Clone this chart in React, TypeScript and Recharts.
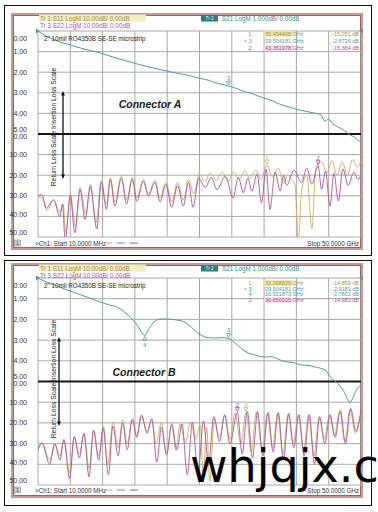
import React from 'react';
import { LineChart, Line, XAxis, YAxis, CartesianGrid, ReferenceLine, ReferenceDot } from 'recharts';

type Pt = [number, number];

const TAN = '#c4af68';
const MAG = '#ad5297';
const TEAL = '#4f9a9a';
const GRID = '#a8a8a8';
const FONT = '"Liberation Sans", Arial, sans-serif';

// frequency axis (GHz), one grid line per 5 GHz
const freqTicks = [0, 5, 10, 15, 20, 25, 30, 35, 40, 45, 50];
// S21 scale: 1 dB/div, 0 dB at top
const ilTicks = [0, -1, -2, -3, -4, -5, -6, -7, -8, -9, -10];

// ---- Connector A ----
const s21A: Pt[] = [
  [0, 0], [1, -0.2], [2, -0.35], [3.4, -0.53], [5, -0.68], [6.5, -0.82], [8, -0.94], [9.6, -1.06],
  [11, -1.2], [12.5, -1.35], [14, -1.48], [15.8, -1.64], [17.5, -1.77], [19, -1.88], [20.5, -1.98],
  [22, -2.08], [23.5, -2.17], [25, -2.3], [26.5, -2.4], [27.3, -2.5], [28, -2.55], [29.5, -2.67],
  [31, -2.82], [32, -2.95], [33, -3.02], [34, -3.15], [35.5, -3.3], [36.5, -3.42], [37.4, -3.55],
  [38.7, -3.67], [40, -3.8], [41.5, -3.9], [43, -4.0], [43.8, -4.06], [44.4, -4.38], [45, -4.28],
  [45.6, -4.5], [46.6, -4.68], [47.5, -4.85], [48.3, -5.05], [49, -5.15], [49.5, -5.3], [50, -5.35],
];
const s11A: Pt[] = [
  [0, -30.5], [0.6, -31], [1.4, -37], [2.4, -32], [3.4, -38], [3.9, -34], [4.3, -48], [5.0, -29],
  [5.8, -45], [6.5, -26], [7.4, -39], [8.1, -24.5], [9.0, -43], [9.8, -22.5], [10.6, -34],
  [11.2, -21], [11.9, -33], [12.9, -20.5], [13.7, -32], [14.6, -21], [15.3, -31], [16.3, -22],
  [17.1, -29], [18.1, -22.5], [18.9, -31], [19.8, -23.5], [20.7, -33], [21.6, -23.5], [22.5, -32],
  [23.3, -22], [24.1, -29], [25.0, -19.5], [25.8, -23], [26.7, -19], [27.6, -22.5], [28.5, -18.5],
  [29.4, -23], [30.3, -18.5], [31.1, -22], [32.0, -18], [32.8, -21.5], [33.7, -17.5], [34.5, -22],
  [35.45, -15.05], [36.3, -21], [37.2, -16.5], [38.0, -24], [38.6, -20], [39.2, -22], [39.8, -25],
  [40.3, -52], [40.8, -27.7], [41.6, -20], [42.4, -46], [43.0, -17], [43.9, -13.5], [44.7, -19],
  [45.5, -13], [46.3, -20], [47.1, -13.5], [47.9, -20], [48.7, -12.5], [49.4, -16], [50, -13],
];
const s22A: Pt[] = [
  [0, -30], [0.6, -29.5], [1.3, -36], [2.4, -32], [3.4, -40], [3.8, -34], [4.2, -52], [5.0, -30],
  [5.7, -48], [6.5, -27], [7.3, -41.5], [8.1, -25.5], [9.1, -46], [9.8, -23.5], [10.6, -36.6],
  [11.2, -22], [11.9, -35], [12.9, -21.5], [13.7, -34], [14.6, -22], [15.3, -32.7], [16.3, -23],
  [17.1, -30], [18.1, -23.5], [18.9, -33], [19.8, -24.5], [20.7, -35.6], [21.6, -25], [22.5, -35],
  [23.3, -23.5], [24.0, -35.6], [24.9, -21.5], [25.9, -26], [26.8, -21], [27.7, -27], [29.0, -20.5],
  [30.2, -31], [31.0, -21], [31.8, -28.5], [32.5, -21.5], [33.1, -27.7], [33.9, -19.5], [34.6, -33.3],
  [35.3, -17], [35.9, -36.6], [36.7, -18.5], [37.5, -27.7], [38.0, -20], [38.5, -25], [39.6, -17.5],
  [40.8, -23.6], [41.6, -16.5], [42.4, -24.4], [43.35, -15.4], [43.9, -26.8], [44.5, -18], [45.2, -35],
  [45.8, -19], [46.5, -32.5], [47.2, -17], [48.0, -25], [48.9, -18.5], [49.5, -22], [50, -20],
];

// ---- Connector B ----
const s21B: Pt[] = [
  [0, 0], [1, -0.15], [2.5, -0.33], [4.5, -0.58], [6.5, -0.8], [8, -0.97], [9.6, -1.16], [11, -1.3],
  [12.2, -1.4], [13.2, -1.6], [14.0, -1.8], [14.7, -2.03], [15.4, -2.3], [16.0, -2.6], [16.52, -2.78],
  [17.0, -2.55], [17.8, -2.17], [18.5, -2.02], [19.3, -1.98], [20.3, -1.99], [21.5, -2.03], [22.5, -2.1],
  [23.3, -2.27], [24.2, -2.5], [25.2, -2.75], [26.3, -2.88], [27.5, -2.9], [28.5, -2.88], [29.5, -2.918],
  [30.5, -3.14], [31.3, -3.35], [32.2, -3.57], [33.6, -3.72], [35.1, -3.82], [36.0, -3.8], [36.8, -3.86],
  [37.8, -4.0], [38.7, -4.06], [39.7, -4.1], [40.7, -4.2], [41.8, -4.22], [42.9, -4.3], [44.4, -4.44],
  [45.4, -4.83], [46.4, -5.1], [47.3, -5.45], [48.3, -6.0], [49.0, -5.6], [49.5, -5.3], [50, -5.2],
];
const s11B: Pt[] = [
  [0, -33], [0.6, -30], [1.8, -38], [2.6, -30.5], [3.4, -36], [4.0, -28.5], [4.9, -44], [5.6, -27],
  [6.4, -35], [7.1, -25.5], [7.9, -42], [8.6, -24], [9.4, -36], [10.1, -21.5], [10.8, -40], [11.6, -19.5],
  [12.4, -32], [13.1, -18.5], [13.8, -30], [14.6, -18], [15.3, -26], [16.0, -16], [16.9, -24],
  [17.6, -18.5], [18.3, -30], [19.1, -20], [19.9, -36], [20.7, -20], [21.3, -33], [22.0, -20.5],
  [22.8, -30], [23.6, -19.5], [24.4, -28], [25.1, -21], [25.6, -46], [26.1, -22], [26.6, -48],
  [27.3, -18], [28.1, -27], [28.9, -16.5], [29.7, -28], [30.5, -15.5], [31.4, -30], [32.21, -14.86],
  [33.0, -34], [33.8, -14.8], [34.7, -33], [35.5, -15.5], [36.3, -32], [37.1, -15.5], [37.9, -35],
  [38.7, -16], [39.5, -30], [40.3, -16.5], [41.1, -33], [41.9, -16.5], [42.7, -36], [43.5, -17.5],
  [44.3, -28], [45.1, -16.5], [45.9, -26], [46.7, -14.5], [47.5, -29], [48.3, -13.5], [49.1, -25], [50, -14.5],
];
const s22B: Pt[] = [
  [0, -33], [0.6, -29.5], [1.8, -40], [2.6, -30], [3.4, -38], [4.0, -28], [4.9, -47], [5.6, -26.5],
  [6.4, -37], [7.1, -25], [7.9, -46], [8.6, -23.5], [9.4, -38], [10.1, -22.5], [10.9, -45], [11.6, -21.5],
  [12.4, -36], [13.1, -20], [13.8, -33], [14.6, -18.5], [15.3, -27], [16.0, -16.5], [16.9, -25],
  [17.6, -18], [18.4, -39], [19.1, -22], [19.9, -35], [20.7, -21], [21.5, -33], [22.3, -20.5],
  [23.1, -45], [23.9, -19.8], [24.8, -44], [25.6, -19], [26.4, -40], [27.2, -17], [28.1, -29],
  [28.9, -16], [29.7, -30], [30.86, -14.98], [31.6, -35], [32.4, -14.5], [33.2, -37], [34.0, -14.5],
  [34.8, -36], [35.6, -15], [36.4, -34], [37.2, -15], [38.0, -38], [38.8, -15.5], [39.6, -32],
  [40.4, -16], [41.2, -36], [42.0, -16], [42.8, -40], [43.6, -17], [44.4, -30], [45.2, -16],
  [46.0, -27], [46.8, -14], [47.6, -30], [48.4, -13], [49.2, -24], [50, -14],
];

// marker readouts: id, trace, frequency (GHz), value (dB)
type Marker = { id: string; tr: 's11' | 's21' | 's22'; f: number; v: number; active?: boolean; below?: boolean };
const markersA: Marker[] = [
  { id: '1', tr: 's11', f: 35.454408, v: -15.051 },
  { id: '3', tr: 's21', f: 29.504181, v: -2.6726, active: true },
  { id: '2', tr: 's22', f: 43.351978, v: -15.384 },
];
const markersB: Marker[] = [
  { id: '1', tr: 's11', f: 32.208829, v: -14.859 },
  { id: '3', tr: 's21', f: 29.504181, v: -2.9181, active: true },
  { id: '4', tr: 's21', f: 16.521873, v: -2.7802, below: true },
  { id: '2', tr: 's22', f: 30.856505, v: -14.982 },
];

const trColor = { s11: TAN, s21: TEAL, s22: MAG };
const rows = (pts: Pt[]) => pts.map(([f, v]) => ({ f, v }));

const AxisTick = (props: any) => {
  const { y, payload } = props;
  const d = Math.abs(payload.value);
  const common = { x: 27, fontSize: 7, fill: '#333', textAnchor: 'end' as const, fontFamily: FONT };
  if (d === 5) {
    return (
      <g>
        <text {...common} y={y - 5} dominantBaseline="central">5.00</text>
        <text {...common} y={y + 2} dominantBaseline="central">0.00</text>
      </g>
    );
  }
  const label = d < 5 ? d.toFixed(2) : ((d - 5) * 10).toFixed(2);
  const dy = d === 0 ? 7 : d === 10 ? -5 : d === 9 ? -2 : 0;
  return (
    <text {...common} y={y + dy} dominantBaseline="central">{label}</text>
  );
};

const markerShape = (color: string, label: string, below?: boolean) => (p: any) => {
  const { cx, cy } = p;
  if (cx == null || cy == null) return <g />;
  return (
    <g>
      <path
        d={below ? `M${cx},${cy + 1} l-2,4 l4,0 z` : `M${cx},${cy - 1} l-2,-4 l4,0 z`}
        fill="none" stroke={color} strokeWidth={0.8}
      />
      <text x={cx} y={below ? cy + 9 : cy - 8} fontSize={6} fill={color} textAnchor="middle"
        dominantBaseline="central" fontFamily={FONT}>{label}</text>
    </g>
  );
};

type PanelCfg = {
  plotTop: number; plotBottom: number;
  s21: Pt[]; s11: Pt[]; s22: Pt[];
  markers: Marker[];
};

const Panel = ({ cfg }: { cfg: PanelCfg }) => (
  <div style={{ position: 'absolute', left: 0, top: 0 }}>
    <LineChart width={378} height={512}
      margin={{ top: cfg.plotTop, right: 17, bottom: 512 - cfg.plotBottom, left: 0 }}>
      <CartesianGrid stroke={GRID} strokeWidth={1} yAxisId="il" />
      <XAxis dataKey="f" type="number" domain={[0, 50]} ticks={freqTicks} hide allowDataOverflow />
      <YAxis yAxisId="il" domain={[-10, 0]} ticks={ilTicks} width={38} axisLine={false}
        tickLine={false} tick={<AxisTick />} interval={0} allowDataOverflow />
      <YAxis yAxisId="rl" domain={[-50, 50]} hide allowDataOverflow />
      <ReferenceLine yAxisId="il" y={-5} stroke="#151515" strokeWidth={2} />
      <Line data={rows(cfg.s11)} dataKey="v" yAxisId="rl" type="monotone" stroke={TAN}
        strokeWidth={0.9} dot={false} isAnimationActive={false} />
      <Line data={rows(cfg.s22)} dataKey="v" yAxisId="rl" type="monotone" stroke={MAG}
        strokeWidth={0.9} dot={false} isAnimationActive={false} />
      <Line data={rows(cfg.s21)} dataKey="v" yAxisId="il" type="monotone" stroke={TEAL}
        strokeWidth={1} dot={false} isAnimationActive={false} />
      {cfg.markers.map((m) => (
        <ReferenceDot key={m.tr + m.id} x={m.f} y={m.v} yAxisId={m.tr === 's21' ? 'il' : 'rl'}
          r={2} shape={markerShape(trColor[m.tr], m.id, m.below)} />
      ))}
    </LineChart>
  </div>
);

const cfgA: PanelCfg = { plotTop: 31, plotBottom: 237, s21: s21A, s11: s11A, s22: s22A, markers: markersA };
const cfgB: PanelCfg = { plotTop: 278, plotBottom: 485, s21: s21B, s11: s11B, s22: s22B, markers: markersB };

type Layout = {
  frame: [number, number]; box: [number, number]; head: number; table: number; step: number;
  sub: number; conn: [number, number]; connLabel: string; rot: number; arrowX: number;
  arrow: [number, number]; status: number; plotTop: number; markers: Marker[];
};

const layouts: Layout[] = [
  {
    frame: [5, 255], box: [14, 248], head: 18, table: 34, step: 7, sub: 38, conn: [150, 104],
    connLabel: 'Connector A', rot: 127, arrowX: 63, arrow: [91, 179], status: 243, plotTop: 31, markers: markersA,
  },
  {
    frame: [260, 505], box: [264, 496], head: 268, table: 283, step: 5.7, sub: 285, conn: [144, 372],
    connLabel: 'Connector B', rot: 379, arrowX: 59, arrow: [337, 426], status: 490, plotTop: 278, markers: markersB,
  },
];

const Frames = () => (
  <svg width={378} height={512} style={{ position: 'absolute', left: 0, top: 0 }}>
    <rect x={0} y={0} width={378} height={512} fill="#fff" />
    {layouts.map((l, i) => (
      <g key={i}>
        <rect x={4.5} y={l.frame[0] + 0.5} width={367} height={l.frame[1] - l.frame[0]} fill="none" stroke="#111" strokeWidth={1} />
        <rect x={12.5} y={l.box[0] + 0.5} width={349} height={l.box[1] - l.box[0]} fill="#fff" stroke="#c49a9a" strokeWidth={3} />
        <rect x={13.5} y={l.box[0] + 1.5} width={347} height={l.box[1] - l.box[0] - 2} fill="none" stroke="#9e6060" strokeWidth={1} />
      </g>
    ))}
  </svg>
);

const txt = { fontFamily: FONT, dominantBaseline: 'central' as const };

const Overlay = () => (
  <svg width={378} height={512} style={{ position: 'absolute', left: 0, top: 0 }}>
    {layouts.map((l, i) => {
      const h = l.head;
      return (
        <g key={i}>
          {/* trace headers */}
          <rect x={39} y={h - 3.5} width={107} height={7} fill="#f2ecc2" />
          <text {...txt} x={40} y={h} fontSize={6.3} fill="#a88f3c">Tr 1  S11 LogM 10.00dB/  0.00dB</text>
          <text {...txt} x={40} y={h + 7} fontSize={6.3} fill={MAG}>Tr 3  S22 LogM 10.00dB/  0.00dB</text>
          <rect x={201} y={h - 3} width={17} height={6.5} fill="#2d7d7d" />
          <text {...txt} x={209.5} y={h} fontSize={4.5} fill="#fff" textAnchor="middle">Tr 2</text>
          <text {...txt} x={222} y={h} fontSize={6.3} fill="#3c8a8a">S21 LogM 1.000dB/  0.00dB</text>

          {/* marker table */}
          {l.markers.map((m, k) => {
            const y = l.table + k * l.step;
            const c = m.tr === 's11' ? '#a88f3c' : trColor[m.tr];
            return (
              <g key={k}>
                {m.tr === 's11' && <rect x={264} y={y - 2.8} width={29} height={5.6} fill="#f0e9a8" />}
                {m.tr === 's22' && <rect x={264} y={y - 2.8} width={29} height={5.6} fill="#f3dcea" />}
                <text {...txt} x={253} y={y} fontSize={5.5} fill={c} textAnchor="end">{(m.active ? '> ' : '') + m.id + ':'}</text>
                <text {...txt} x={265} y={y} fontSize={5.5} fill={c}>{m.f.toFixed(6) + ' GHz'}</text>
                <text {...txt} x={359} y={y} fontSize={5.5} fill={c} textAnchor="end">{m.v.toPrecision(5) + ' dB'}</text>
              </g>
            );
          })}

          {/* subtitle and connector */}
          <text {...txt} x={44} y={l.sub} fontSize={6.3} fill="#222">2" 10mil RO4350B SE-SE microstrip</text>
          <text {...txt} x={l.conn[0]} y={l.conn[1]} fontSize={10.5} fontWeight="bold" fontStyle="italic"
            fill="#1a1a1a" textAnchor="middle">{l.connLabel}</text>

          {/* scale annotation */}
          <text {...txt} x={53} y={l.rot} fontSize={6.8} fill="#222" textAnchor="middle"
            transform={`rotate(-90 53 ${l.rot})`}>Return Loss Scale Insertion Loss Scale</text>
          <line x1={l.arrowX} x2={l.arrowX} y1={l.arrow[0] + 3} y2={l.arrow[1] - 3} stroke="#111" strokeWidth={1.3} />
          <path d={`M${l.arrowX},${l.arrow[0]} l-2,4.5 l4,0 z`} fill="#111" />
          <path d={`M${l.arrowX},${l.arrow[1]} l-2,-4.5 l4,0 z`} fill="#111" />

          {/* reference indicators */}
          <path d={`M36,${l.plotTop - 2.5} l4,2.5 l-4,2.5 z`} fill={TEAL} />
          <path d={`M363,${l.plotTop - 2.5} l-4,2.5 l4,2.5 z`} fill={TEAL} />

          {/* status bar */}
          <rect x={14.5} y={l.status - 3} width={6} height={6} fill="#d0d0d0" stroke="#888" strokeWidth={0.6} />
          <text {...txt} x={17.5} y={l.status} fontSize={4.5} fill="#333" textAnchor="middle">1</text>
          <text {...txt} x={35} y={l.status} fontSize={6.3} fill="#333">{'>Ch1: Start  10.0000 MHz'}</text>
          <line x1={104} x2={112} y1={l.status} y2={l.status} stroke={TAN} strokeWidth={1} />
          <line x1={117} x2={125} y1={l.status} y2={l.status} stroke={TEAL} strokeWidth={1} />
          <line x1={130} x2={138} y1={l.status} y2={l.status} stroke={MAG} strokeWidth={1} />
          <text {...txt} x={359} y={l.status} fontSize={6.3} fill="#333" textAnchor="end">Stop  50.0000 GHz</text>
        </g>
      );
    })}
    <text x={190} y={482} fontSize={46} fill="#000" fontFamily='"DejaVu Sans", sans-serif'>whjqjx.c</text>
  </svg>
);

export default function App() {
  return (
    <div style={{ position: 'fixed', left: 0, top: 0, width: 378, height: 512, overflow: 'hidden', background: '#fff' }}>
      <Frames />
      <Panel cfg={cfgA} />
      <Panel cfg={cfgB} />
      <Overlay />
    </div>
  );
}
